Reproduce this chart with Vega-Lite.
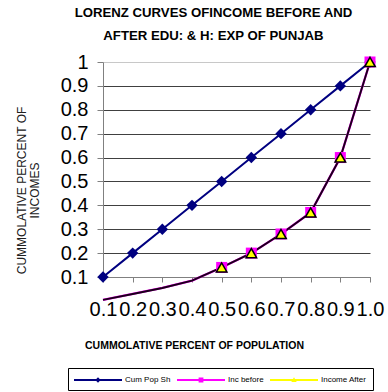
{
  "$schema": "https://vega.github.io/schema/vega-lite/v6.json",
  "autosize": "none",
  "width": 267,
  "height": 215,
  "padding": {"left": 103, "top": 62, "right": 18, "bottom": 115},
  "background": "white",
  "config": {
    "font": "Liberation Sans",
    "view": {"stroke": null},
    "legend": {"labelFont": "Liberation Sans"}
  },
  "title": {
    "text": ["LORENZ CURVES OFINCOME BEFORE AND", "AFTER EDU: & H: EXP OF PUNJAB"],
    "font": "Liberation Sans",
    "fontSize": 13.2,
    "fontWeight": "bold",
    "color": "black",
    "lineHeight": 23,
    "anchor": "middle",
    "dx": -23,
    "offset": 9
  },
  "data": {
    "values": [
      {"pop": 0.1, "series": "Cum Pop Sh", "share": 0.1},
      {"pop": 0.2, "series": "Cum Pop Sh", "share": 0.2},
      {"pop": 0.3, "series": "Cum Pop Sh", "share": 0.3},
      {"pop": 0.4, "series": "Cum Pop Sh", "share": 0.4},
      {"pop": 0.5, "series": "Cum Pop Sh", "share": 0.5},
      {"pop": 0.6, "series": "Cum Pop Sh", "share": 0.6},
      {"pop": 0.7, "series": "Cum Pop Sh", "share": 0.7},
      {"pop": 0.8, "series": "Cum Pop Sh", "share": 0.8},
      {"pop": 0.9, "series": "Cum Pop Sh", "share": 0.9},
      {"pop": 1.0, "series": "Cum Pop Sh", "share": 1.0},
      {"pop": 0.1, "series": "Inc before", "share": 0.004},
      {"pop": 0.2, "series": "Inc before", "share": 0.029},
      {"pop": 0.3, "series": "Inc before", "share": 0.054},
      {"pop": 0.4, "series": "Inc before", "share": 0.085},
      {"pop": 0.5, "series": "Inc before", "share": 0.14},
      {"pop": 0.6, "series": "Inc before", "share": 0.2},
      {"pop": 0.7, "series": "Inc before", "share": 0.28},
      {"pop": 0.8, "series": "Inc before", "share": 0.37},
      {"pop": 0.9, "series": "Inc before", "share": 0.6},
      {"pop": 1.0, "series": "Inc before", "share": 1.0},
      {"pop": 0.1, "series": "Income After", "share": 0.004},
      {"pop": 0.2, "series": "Income After", "share": 0.029},
      {"pop": 0.3, "series": "Income After", "share": 0.054},
      {"pop": 0.4, "series": "Income After", "share": 0.085},
      {"pop": 0.5, "series": "Income After", "share": 0.14},
      {"pop": 0.6, "series": "Income After", "share": 0.2},
      {"pop": 0.7, "series": "Income After", "share": 0.28},
      {"pop": 0.8, "series": "Income After", "share": 0.37},
      {"pop": 0.9, "series": "Income After", "share": 0.6},
      {"pop": 1.0, "series": "Income After", "share": 1.0}
    ]
  },
  "encoding": {
    "x": {
      "field": "pop",
      "type": "quantitative",
      "scale": {"domain": [0.1, 1.0], "nice": false, "zero": false},
      "axis": {
        "values": [0.1, 0.2, 0.3, 0.4, 0.5, 0.6, 0.7, 0.8, 0.9, 1.0],
        "format": ".1f",
        "grid": false,
        "domainColor": "#808080",
        "tickColor": "#808080",
        "tickSize": 5,
        "labelFontSize": 20,
        "labelColor": "black",
        "labelPadding": 17,
        "labelOverlap": false,
        "labelBound": false,
        "labelFlush": false,
        "title": "CUMMOLATIVE PERCENT OF POPULATION",
        "titleFontSize": 10.5,
        "titleFontWeight": "bold",
        "titleColor": "black",
        "titleX": 91,
        "titleY": 71,
        "titleAlign": "center",
        "titleBaseline": "alphabetic"
      }
    },
    "y": {
      "field": "share",
      "type": "quantitative",
      "scale": {"domain": [0.1, 1.0], "nice": false, "zero": false},
      "axis": {
        "values": [0.1, 0.2, 0.3, 0.4, 0.5, 0.6, 0.7, 0.8, 0.9, 1.0],
        "format": "~g",
        "gridColor": {"condition": {"test": "datum.value == 1", "value": "#c8c8c8"}, "value": "#404040"},
        "gridWidth": 1,
        "domainColor": "#808080",
        "tickColor": "#808080",
        "tickSize": 6,
        "labelFontSize": 20,
        "labelColor": "black",
        "labelPadding": 9,
        "labelOverlap": false,
        "labelBound": false,
        "labelFlush": false,
        "title": ["CUMMOLATIVE PERCENT OF", "INCOMES"],
        "titleFontSize": 12,
        "titleFontWeight": "normal",
        "titleColor": "#202020",
        "titleLineHeight": 13,
        "titleAngle": -90,
        "titleX": -78,
        "titleY": 128,
        "titleAlign": "center",
        "titleBaseline": "alphabetic"
      }
    }
  },
  "layer": [
    {
      "transform": [{"filter": "datum.series == 'Cum Pop Sh'"}],
      "mark": {"type": "line", "color": "#000080", "strokeWidth": 2, "clip": false}
    },
    {
      "transform": [{"filter": "datum.series == 'Cum Pop Sh'"}],
      "mark": {"type": "point", "shape": "diamond", "filled": true, "color": "#000080", "opacity": 1, "size": 130, "clip": false}
    },
    {
      "transform": [{"filter": "datum.series == 'Inc before'"}],
      "mark": {"type": "line", "color": "#ff00ff", "strokeWidth": 2.3, "clip": false}
    },
    {
      "transform": [{"filter": "datum.series == 'Income After'"}],
      "mark": {"type": "line", "color": "#1a001a", "strokeWidth": 1.9, "clip": false}
    },
    {
      "transform": [{"filter": "datum.series == 'Inc before' && datum.share >= 0.1"}],
      "mark": {"type": "point", "shape": "square", "filled": true, "color": "#ff00ff", "opacity": 1, "size": 121, "clip": false}
    },
    {
      "transform": [{"filter": "datum.series == 'Income After' && datum.share >= 0.1"}],
      "mark": {"type": "point", "shape": "triangle-up", "filled": true, "fill": "#ffff00", "stroke": "black", "strokeWidth": 1.5, "opacity": 1, "size": 110, "clip": false}
    },
    {
      "transform": [{"filter": "false"}],
      "mark": {"type": "point", "filled": true, "opacity": 1},
      "encoding": {
        "color": {
          "field": "series",
          "type": "nominal",
          "scale": {"domain": ["Cum Pop Sh", "Inc before", "Income After"], "range": ["#000080", "#ff00ff", "#ffff00"]},
          "legend": {
            "title": null,
            "orient": "none",
            "legendX": -35,
            "legendY": 306,
            "direction": "horizontal",
            "columns": 3,
            "gridAlign": "none",
            "columnPadding": 6,
            "padding": 6,
            "strokeColor": "black",
            "fillColor": "white",
            "symbolSize": 144,
            "symbolStrokeWidth": 0,
            "symbolOpacity": 1,
            "labelOffset": 39,
            "labelFontSize": 8,
            "labelColor": "black",
            "labelLimit": 0
          }
        },
        "shape": {
          "field": "series",
          "type": "nominal",
          "scale": {
            "domain": ["Cum Pop Sh", "Inc before", "Income After"],
            "range": [
              "M-1,-0.17H7V0.17H-1Z M3,-0.45L3.45,0L3,0.45L2.55,0Z",
              "M-1,-0.17H7V0.17H-1Z M2.6,-0.4H3.4V0.4H2.6Z",
              "M-1,-0.17H7V0.17H-1Z M3,-0.45L3.45,0.35H2.55Z"
            ]
          },
          "legend": {
            "title": null,
            "orient": "none",
            "legendX": -35,
            "legendY": 306,
            "direction": "horizontal",
            "columns": 3,
            "gridAlign": "none",
            "columnPadding": 6,
            "padding": 6,
            "strokeColor": "black",
            "fillColor": "white",
            "symbolSize": 144,
            "symbolStrokeWidth": 0,
            "symbolOpacity": 1,
            "labelOffset": 39,
            "labelFontSize": 8,
            "labelColor": "black",
            "labelLimit": 0
          }
        }
      }
    }
  ]
}
